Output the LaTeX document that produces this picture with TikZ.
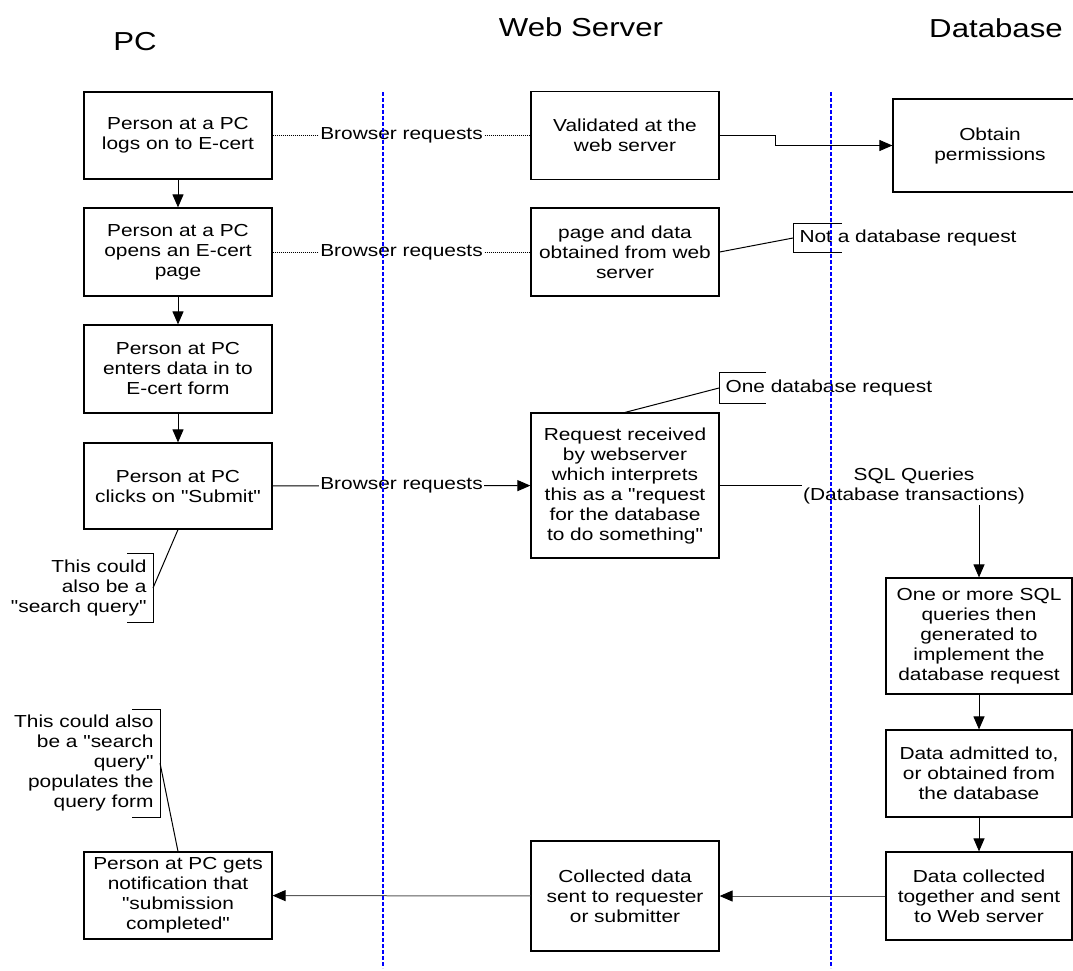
\documentclass[tikz,border=0pt]{standalone}
\usepackage{fontspec}
\setmainfont{Liberation Sans}[FakeStretch=1.2, Ligatures=TeXOff]
\usetikzlibrary{arrows.meta}
\begin{document}
\begin{tikzpicture}[x=1pt, y=-1pt, >={Triangle[length=13pt,width=11pt,black]}, line join=miter,
    font=\fontsize{17.4}{20}\selectfont, line width=1pt,
    box/.style={draw, line width=1.2pt, minimum width=188pt, align=center, inner sep=2pt},
    lbl/.style={fill=white, inner sep=1pt},
    note/.style={inner xsep=6pt, inner ysep=0pt},
    lane/.style={draw={rgb,255:red,0;green,0;blue,255}, line width=1.1pt, dash pattern=on 4pt off 2pt},
    ttl/.style={font=\fontsize{26}{30}\selectfont}]
    \def\laneTop{92} \def\laneBot{968}
    \useasboundingbox (0,0) rectangle (1073,970);
    % titles
    \node[ttl] (tpc) at (135,42) {PC};
    \node[ttl] (tweb) at (581,27) {Web Server};
    \node[ttl] (tdb) at (996,28) {Database};
    % PC
    \node[box, minimum height=87] (pc1) at (178,135.5) {Person at a PC\\logs on to E-cert};
    \node[box, minimum height=88] (pc2) at (178,252) {Person at a PC\\opens an E-cert\\page};
    \node[box, minimum height=88] (pc3) at (178,369) {Person at PC\\enters data in to\\E-cert form};
    \node[box, minimum height=86] (pc4) at (178,486) {Person at PC\\clicks on "Submit"};
    \node[box, minimum height=87] (pc5) at (178,895.5) {Person at PC gets\\notification that\\"submission\\completed"};
    % web server
    \node[box, minimum height=88] (ws1) at (625,135.5) {Validated at the\\web server};
    \node[box, minimum height=88] (ws2) at (625,252) {page and data\\obtained from web\\server};
    \node[box, minimum height=145] (ws3) at (625,485.5) {Request received\\by webserver\\which interprets\\this as a "request\\for the database\\to do something"};
    \node[box, minimum height=110] (ws4) at (625,896) {Collected data\\sent to requester\\or submitter};
    % database
    \node[box, minimum width=194, minimum height=93] (db0) at (990,145.5) {Obtain\\permissions};
    \node[box, minimum width=186, minimum height=116] (db1) at (979,636) {One or more SQL\\queries then\\generated to\\implement the\\database request};
    \node[box, minimum width=186, minimum height=87] (db2) at (979,773.5) {Data admitted to,\\or obtained from\\the database};
    \node[box, minimum width=186, minimum height=88] (db3) at (979,896) {Data collected\\together and sent\\to Web server};

    \draw[->] (pc1) -- (pc2);
    \draw[->] (pc2) -- (pc3);
    \draw[->] (pc3) -- (pc4);
    \draw[dash pattern=on 1pt off 1pt] (pc1) -- (ws1) node[lbl, midway] {Browser requests};
    \draw[dash pattern=on 1pt off 1pt] (pc2) -- (ws2) node[lbl, midway] {Browser requests};
    \draw[->] (pc4) -- (ws3) node[lbl, midway] {Browser requests};
    \draw[->] (ws1.east) -- ++(56,0) |- (db0.west);
    \draw[->] (ws3.east) -| (db1.north);
    \node[lbl, align=center] (sqlq) at (914,486) {SQL Queries\\(Database transactions)};
    \draw[->] (db1) -- (db2);
    \draw[->] (db2) -- (db3);
    \draw[->, draw=black!65] (db3) -- (ws4);
    \draw[->, draw=black!65] (ws4) -- (pc5);

    % callouts
    \node[note, anchor=west, minimum height=28] (notdb) at (793,238) {Not a database request};
    \draw ([xshift=49pt]notdb.north west) -- (notdb.north west) -- (notdb.south west) -- ([xshift=49pt]notdb.south west);
    \draw (ws2.east) -- (notdb.west);
    \node[note, anchor=west, minimum height=30] (onedb) at (719,388) {One database request};
    \draw ([xshift=47pt]onedb.north west) -- (onedb.north west) -- (onedb.south west) -- ([xshift=47pt]onedb.south west);
    \draw (ws3.north) -- (onedb.west);
    \node[note, anchor=east, align=right, minimum height=68] (srch) at (153,588) {This could\\also be a\\"search query"};
    \draw ([xshift=-26pt]srch.north east) -- (srch.north east) -- (srch.south east) -- ([xshift=-26pt]srch.south east);
    \draw (pc4.south) -- (srch.east);
    \node[note, anchor=east, align=right, minimum height=107] (srchb) at (160,763) {This could also\\be a "search\\query"\\populates the\\query form};
    \draw ([xshift=-28pt]srchb.north east) -- (srchb.north east) -- (srchb.south east) -- ([xshift=-28pt]srchb.south east);
    \draw (srchb.east) -- (pc5.north);

    % swim lanes
    \draw[lane] (383,\laneTop) -- (383,\laneBot);
    \draw[lane] (831,\laneTop) -- (831,\laneBot);
\end{tikzpicture}
\end{document}
